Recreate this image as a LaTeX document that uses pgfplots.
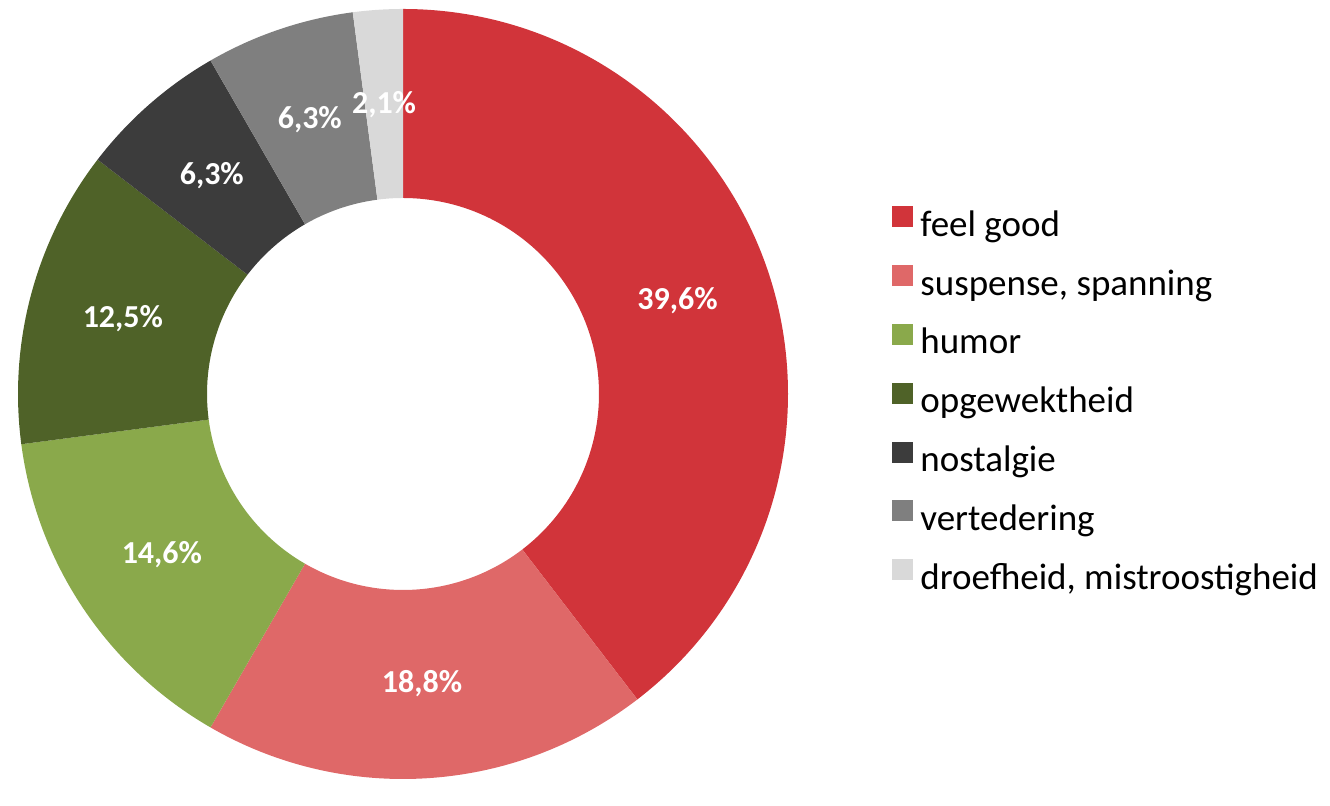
\documentclass[border=0pt]{standalone}
\usepackage{fontspec}
\setmainfont{Carlito}
\usepackage{pgfplots}
\usepackage{pgfplotstable}
\pgfplotsset{compat=1.18}
\definecolor{c0}{HTML}{D1343A}
\definecolor{c1}{HTML}{DF6868}
\definecolor{c2}{HTML}{8AA94B}
\definecolor{c3}{HTML}{4F6228}
\definecolor{c4}{HTML}{3C3C3C}
\definecolor{c5}{HTML}{7F7F7F}
\definecolor{c6}{HTML}{D9D9D9}
\pgfplotstableread{
count lbl
19 39,6
9 18,8
7 14,6
6 12,5
3 6,3
3 6,3
1 2,1
}\slices
\begin{document}
\begin{tikzpicture}
\begin{axis}[width=665pt,height=394pt,scale only axis,
  xmin=0,xmax=1330,ymin=0,ymax=788,hide axis,clip=false,
  legend style={at={(892/1330,582/788)},anchor=north west,draw=none,fill=none,
    inner sep=0pt,font=\fontsize{18.5}{22}\selectfont,
    nodes={inner sep=0pt,text height=13pt,text depth=4pt},
    row sep=10.4pt,column sep=3.5pt},
  legend cell align=left,
  legend image code/.code={\fill[#1,draw=none] (0pt,0pt) rectangle (10.5pt,10.5pt);}]
\path (axis cs:0,0) rectangle (axis cs:1330,788);
\def\total{48}
\def\cum{0}
\pgfplotsforeachungrouped \i in {0,...,6}{%
  \pgfplotstablegetelem{\i}{count}\of\slices \let\cnt\pgfplotsretval
  \pgfplotstablegetelem{\i}{lbl}\of\slices \let\lbl\pgfplotsretval
  \pgfmathsetmacro\aA{90-(360/\total)*\cum}%
  \pgfmathsetmacro\cumB{\cum+\cnt}%
  \pgfmathsetmacro\aB{90-(360/\total)*\cumB}%
  \pgfmathsetmacro\aM{(\aA+\aB)/2}%
  \pgfmathsetmacro\lx{403+290*cos(\aM)}%
  \pgfmathsetmacro\ly{394+290*sin(\aM)}%
  \edef\doit{\noexpand\fill[c\i, shift={(axis cs:403,394)}] (\aA:192.5pt) arc[start angle=\aA, end angle=\aB, radius=192.5pt] -- (\aB:98pt) arc[start angle=\aB, end angle=\aA, radius=98pt] -- cycle;
    \noexpand\node[text=white,font=\noexpand\fontsize{16}{19}\noexpand\selectfont\noexpand\bfseries] at (axis cs:\lx,\ly) {\lbl\noexpand\%};}%
  \doit
  \global\let\cum\cumB
}
\addlegendimage{fill=c0}\addlegendentry{feel good}
\addlegendimage{fill=c1}\addlegendentry{suspense, spanning}
\addlegendimage{fill=c2}\addlegendentry{humor}
\addlegendimage{fill=c3}\addlegendentry{opgewektheid}
\addlegendimage{fill=c4}\addlegendentry{nostalgie}
\addlegendimage{fill=c5}\addlegendentry{vertedering}
\addlegendimage{fill=c6}\addlegendentry{droefheid, mistroostigheid}
\end{axis}
\end{tikzpicture}
\end{document}
